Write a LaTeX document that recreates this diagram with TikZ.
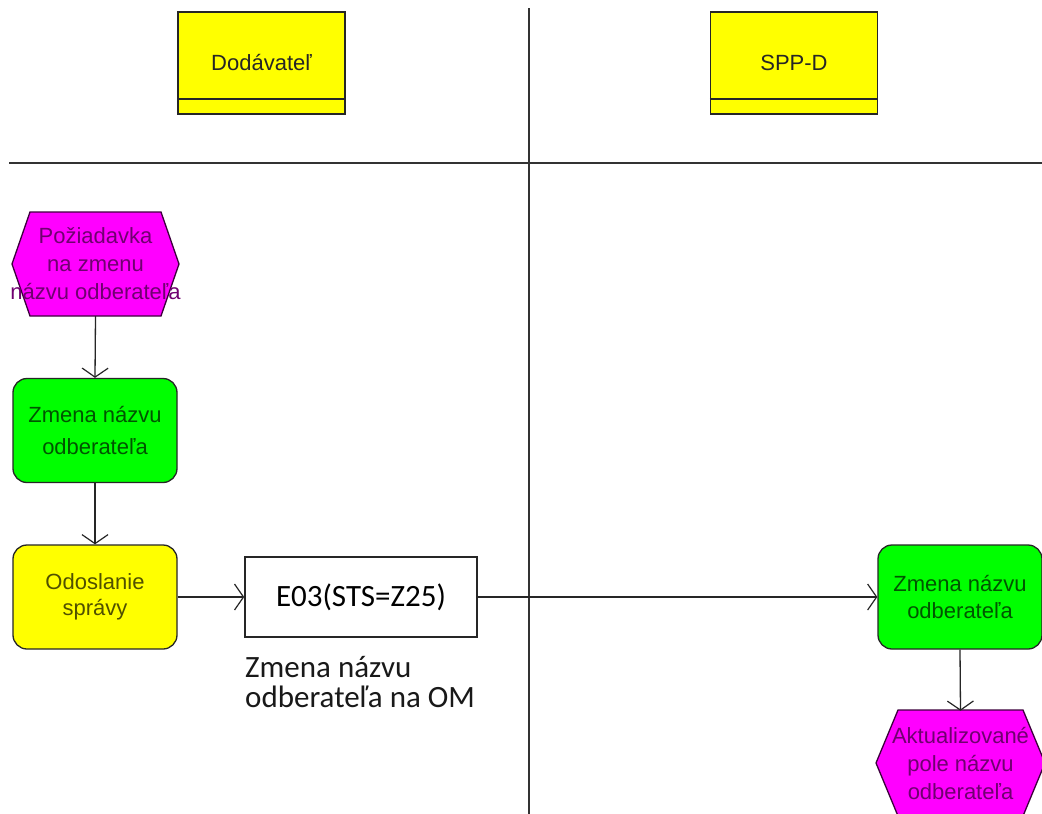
\documentclass[tikz,border=0pt]{standalone}
\usepackage{fontspec}
\setmainfont{Liberation Sans}
\newfontfamily\calib{Carlito}
\usetikzlibrary{arrows.meta,backgrounds,calc}
\definecolor{evtfill}{RGB}{255,0,255}
\definecolor{funcfill}{RGB}{0,255,0}
\definecolor{orgfill}{RGB}{255,255,0}
\definecolor{evttxt}{RGB}{112,0,112}
\definecolor{functxt}{RGB}{0,85,0}
\definecolor{orgtxt}{RGB}{80,80,0}
\definecolor{evtline}{RGB}{60,0,60}
\begin{document}
\begin{tikzpicture}[x=1pt,y=-1pt,
  lane/.style={draw=black!80, line width=2pt},
  orgbox/.style={draw=black!85, line width=1.5pt, fill=orgfill, minimum width=167pt, minimum height=102pt, inner sep=0pt, text=black!85, font=\fontsize{22}{26}\selectfont},
  funcbox/.style={draw=black!85, line width=1.3pt, fill=funcfill, rounded corners=14pt, minimum width=164pt, minimum height=104pt, inner sep=0pt, align=center, text=functxt, font=\fontsize{22}{32}\selectfont},
  sendbox/.style={funcbox, fill=orgfill, text=orgtxt, font=\fontsize{22}{26}\selectfont},
  evttext/.style={inner sep=0pt, minimum width=167pt, minimum height=104pt, align=center, text=evttxt, font=\fontsize{22}{28}\selectfont},
  evtshape/.style={draw=evtline, line width=1.3pt, fill=evtfill},
  msgbox/.style={draw=black!85, line width=1.5pt, fill=white, minimum width=232pt, minimum height=80pt, inner sep=0pt, font=\calib\fontsize{31}{36}\selectfont},
  caption/.style={inner sep=0pt, align=left, text=black!90, font=\calib\fontsize{31}{30}\selectfont},
  flow/.style={draw=black!85, line width=1.3pt, -{Straight Barb[length=9pt,width=26pt,line width=1.2pt]}},
]
\useasboundingbox (0,0) rectangle (1042,814);

% lane headers
\node[orgbox] (dod) at (261.5,63) {Dodávateľ};
\node[orgbox] (spp) at (794,63) {SPP-D};
\draw[line width=1.5pt, draw=black!85] ($(dod.south west)+(0,-16)$) -- ($(dod.south east)+(0,-16)$);
\draw[line width=1.5pt, draw=black!85] ($(spp.south west)+(0,-16)$) -- ($(spp.south east)+(0,-16)$);

% objects
\node[evttext] (h1) at (95.5,264) {Požiadavka\\na zmenu\\názvu odberateľa};
\node[funcbox] (g1) at (95,430.5) {Zmena názvu\\odberateľa};
\node[sendbox] (y1) at (95,597) {Odoslanie\\správy};
\node[msgbox] (e03) at (361,597) {E03(STS=Z25)};
\node[caption, anchor=north west] (cap) at (245,656) {Zmena názvu\\odberateľa na OM};
\node[funcbox, font=\fontsize{22}{27}\selectfont] (g2) at (960,597) {Zmena názvu\\odberateľa};
\node[evttext] (h2) at (960.5,763) {Aktualizované\\pole názvu\\odberateľa};

\begin{scope}[on background layer]
  \fill[white] (0,0) rectangle (1042,814);
  \draw[lane] (529,8) -- (529,814);
  \draw[lane] (9,163) -- (1042,163);
  \draw[evtshape] (h1.center) ++(-83.5,0) -- ++(18,-52) -- ++(131,0) -- ++(18,52) -- ++(-18,52) -- ++(-131,0) -- cycle;
  \draw[evtshape] (h2.center) ++(-84.5,0) -- ++(22,-53) -- ++(125,0) -- ++(22,53) -- ++(-22,53) -- ++(-125,0) -- cycle;
\end{scope}

% connectors
\draw[flow] (h1.south) -- (g1.north);
\draw[flow] (g1.south) -- (y1.north);
\draw[flow] (y1.east) -- (e03.west);
\draw[flow] (e03.east) -- (g2.west);
\draw[flow] (g2.south) -- (h2.north);
\end{tikzpicture}
\end{document}
